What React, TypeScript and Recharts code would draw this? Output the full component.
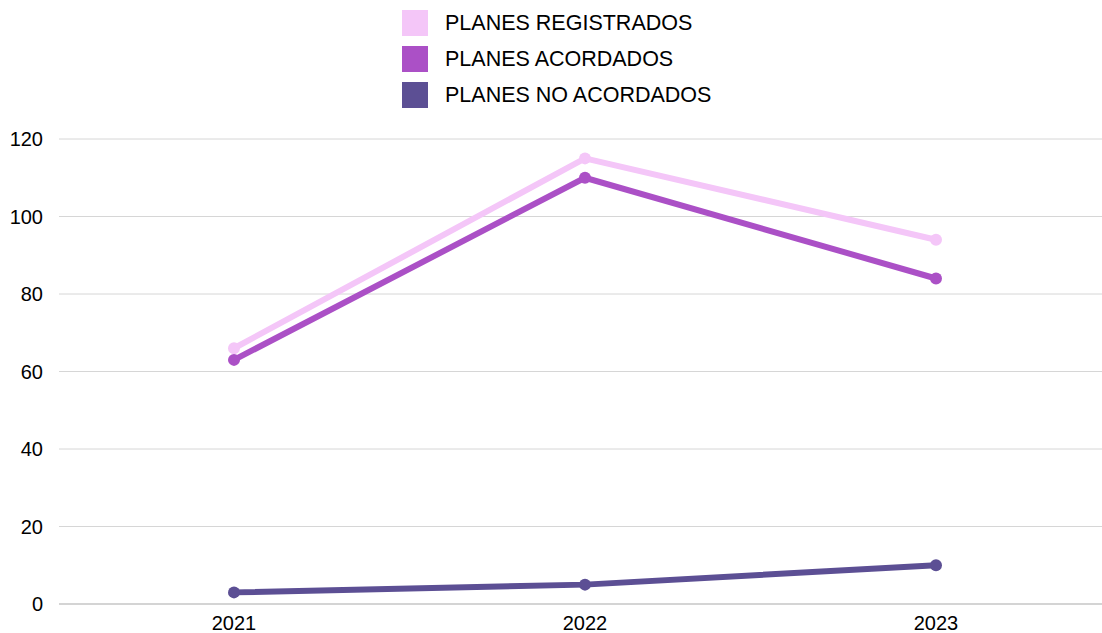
import { LineChart, Line, XAxis, YAxis, CartesianGrid, Legend } from "recharts";

const years = ["2021", "2022", "2023"];
const registrados = [66, 115, 94];
const acordados = [63, 110, 84];
const noAcordados = [3, 5, 10];
const yTicks = [0, 20, 40, 60, 80, 100, 120];

const series = [
  { key: "registrados", name: "PLANES REGISTRADOS", color: "#f4c6f8" },
  { key: "acordados", name: "PLANES ACORDADOS", color: "#ab50c6" },
  { key: "noAcordados", name: "PLANES NO ACORDADOS", color: "#5c4f94" },
];

const data = years.map((year, i) => ({
  year,
  registrados: registrados[i],
  acordados: acordados[i],
  noAcordados: noAcordados[i],
}));

const font = "Arial, 'Liberation Sans', sans-serif";

const LegendBox = () => (
  <div style={{ position: "relative", height: 110, fontFamily: font }}>
    {series.map((s, i) => (
      <div
        key={s.key}
        style={{ position: "absolute", left: 402, top: 10 + i * 36, display: "flex", alignItems: "center" }}
      >
        <div style={{ width: 26, height: 26, background: s.color }} />
        <span style={{ marginLeft: 17, fontSize: 21.5, color: "#000" }}>{s.name}</span>
      </div>
    ))}
  </div>
);

export default function App() {
  return (
    <div style={{ position: "absolute", left: 0, top: 0, background: "#fff" }}>
      <LineChart width={1102} height={633} data={data} margin={{ top: 29, right: 0, bottom: 0, left: 0 }}>
        <CartesianGrid vertical={false} stroke="#d6d6d6" />
        <XAxis
          dataKey="year"
          padding={{ left: 175, right: 166 }}
          tickLine={false}
          axisLine={{ stroke: "#bdbdbd" }}
          height={29}
          tickMargin={6}
          tick={{ fill: "#000", fontSize: 20, fontFamily: font }}
        />
        <YAxis
          domain={[0, 120]}
          ticks={yTicks}
          width={59}
          tickLine={false}
          axisLine={false}
          tickMargin={10}
          tick={{ fill: "#000", fontSize: 20, fontFamily: font }}
        />
        <Legend
          verticalAlign="top"
          height={110}
          content={() => <LegendBox />}
          wrapperStyle={{ top: 0, left: 0, width: 1102 }}
        />
        {series.map((s) => (
          <Line
            key={s.key}
            dataKey={s.key}
            name={s.name}
            stroke={s.color}
            strokeWidth={6}
            dot={{ r: 6, fill: s.color, stroke: s.color, strokeWidth: 0 }}
            isAnimationActive={false}
          />
        ))}
      </LineChart>
    </div>
  );
}
